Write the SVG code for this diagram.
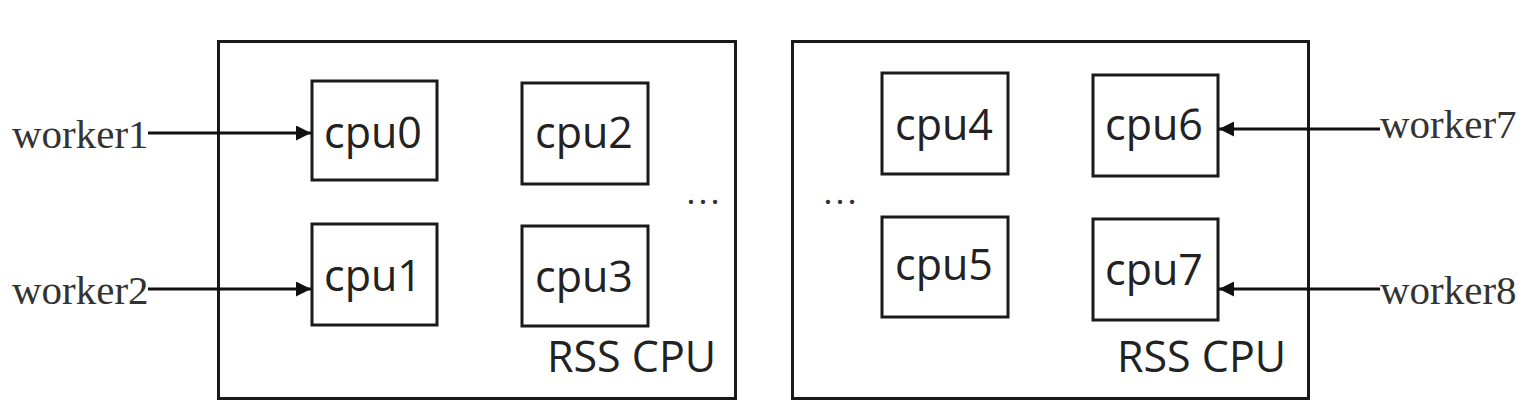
<svg xmlns="http://www.w3.org/2000/svg" width="1538" height="417" viewBox="0 0 1538 417">
<style>
.box{fill:none;stroke:#1a1a1a;stroke-width:3}
.cpu{fill:#fff;stroke:#1a1a1a;stroke-width:3}
.lbl{font-family:"Open Sans","Noto Sans",sans-serif;font-size:43px;fill:#222;text-anchor:middle}
.rss{font-family:"Open Sans","Noto Sans",sans-serif;font-size:43px;fill:#222}
.wk{font-family:"Liberation Serif","Times New Roman",serif;font-size:41px;fill:#333}
.dots{font-family:"Liberation Serif",serif;font-size:36px;fill:#333}
.conn{stroke:#111;stroke-width:3;fill:none}
</style>
<defs>
<marker id="ah" viewBox="0 0 10 10" refX="10" refY="5" markerWidth="19" markerHeight="15" markerUnits="userSpaceOnUse" orient="auto">
<path d="M0,0 L10,5 L0,10 z" fill="#111"/>
</marker>
</defs>
<rect width="1538" height="417" fill="#fff"/>
<g id="rss-left">
<rect class="box" x="218.5" y="41.5" width="517" height="357"/>
<text class="rss" x="547" y="372">RSS CPU</text>
<text class="dots" x="685" y="204">…</text>
</g>
<g id="rss-right">
<rect class="box" x="792.5" y="41.5" width="516" height="357"/>
<text class="rss" x="1117" y="372">RSS CPU</text>
<text class="dots" x="822" y="204">…</text>
</g>
<g id="cpu0"><rect class="cpu" x="312" y="81" width="125" height="99"/><text class="lbl" x="373" y="148">cpu0</text></g>
<g id="cpu1"><rect class="cpu" x="312" y="224" width="125" height="101"/><text class="lbl" x="373" y="291">cpu1</text></g>
<g id="cpu2"><rect class="cpu" x="522" y="83" width="126" height="101"/><text class="lbl" x="584" y="148">cpu2</text></g>
<g id="cpu3"><rect class="cpu" x="522" y="226" width="126" height="100"/><text class="lbl" x="584" y="292">cpu3</text></g>
<g id="cpu4"><rect class="cpu" x="882" y="73" width="126" height="101"/><text class="lbl" x="944" y="140">cpu4</text></g>
<g id="cpu5"><rect class="cpu" x="882" y="217" width="126" height="100"/><text class="lbl" x="944" y="280">cpu5</text></g>
<g id="cpu6"><rect class="cpu" x="1093" y="75" width="125" height="101"/><text class="lbl" x="1154" y="140">cpu6</text></g>
<g id="cpu7"><rect class="cpu" x="1093" y="219" width="125" height="101"/><text class="lbl" x="1154" y="285">cpu7</text></g>
<g id="worker1"><text class="wk" x="12" y="148">worker1</text></g>
<g id="worker2"><text class="wk" x="12" y="304">worker2</text></g>
<g id="worker7"><text class="wk" x="1380" y="138">worker7</text></g>
<g id="worker8"><text class="wk" x="1380" y="304">worker8</text></g>
<g id="connectors">
<line class="conn" x1="148" y1="133" x2="311" y2="133" marker-end="url(#ah)"/>
<line class="conn" x1="148" y1="289" x2="311" y2="289" marker-end="url(#ah)"/>
<line class="conn" x1="1380" y1="129" x2="1219" y2="129" marker-end="url(#ah)"/>
<line class="conn" x1="1380" y1="289" x2="1219" y2="289" marker-end="url(#ah)"/>
</g>
</svg>
